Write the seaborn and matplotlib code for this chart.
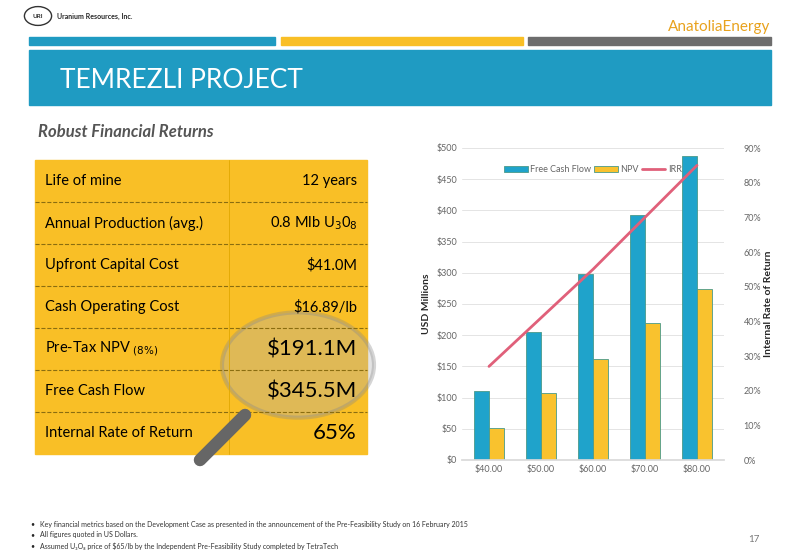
import matplotlib
matplotlib.use('Agg')
import matplotlib.pyplot as plt
import numpy as np
import pandas as pd
import seaborn as sns
from matplotlib.patches import Rectangle, Circle

sns.set_theme(style='white')
plt.rcParams['font.family'] = ['Lato', 'DejaVu Sans']

prices = ['$40.00', '$50.00', '$60.00', '$70.00', '$80.00']
free_cash_flow = [110, 205, 298, 392, 487]
npv = [52, 107, 162, 219, 274]
irr = [27, 41, 55, 70, 85]

table_labels = ['Life of mine', 'Annual Production (avg.)', 'Upfront Capital Cost',
                'Cash Operating Cost', 'Pre-Tax NPV $_{(8\\%)}$', 'Free Cash Flow',
                'Internal Rate of Return']
table_values = ['12 years', '0.8 Mlb U$_3$0$_8$', r'\$41.0M', r'\$16.89/lb',
                r'\$191.1M', r'\$345.5M', '65%']

footnotes = ['Key financial metrics based on the Development Case as presented in the announcement of the Pre-Feasibility Study on 16 February 2015',
             'All figures quoted in US Dollars.',
             'Assumed U\u2083O\u2088 price of \\$65/lb by the Independent Pre-Feasibility Study completed by TetraTech']

W, H = 800, 554
fig = plt.figure(figsize=(8, 5.54), dpi=100)
fig.patch.set_facecolor('white')

def box(x, y, w, h, color, **kw):
    fig.patches.append(Rectangle((x / W, 1 - (y + h) / H), w / W, h / H,
                                 transform=fig.transFigure, color=color, **kw))

def txt(x, y, s, **kw):
    fig.text(x / W, 1 - y / H, s, **kw)

blue = '#1f9bc2'
gold = '#f9bf26'
# header
box(29, 37, 246, 8, blue)
box(281, 37, 242, 8, gold)
box(528, 37, 243, 8, '#6d6d6d')
box(29, 50, 742, 55, blue)
txt(60, 80, 'TEMREZLI PROJECT', color='white', fontsize=19, va='center')
txt(57, 16, 'Uranium Resources, Inc.', fontsize=5, weight='bold', va='center')
fig.patches.append(Circle((38 / W, 1 - 16 / H), 0.017, transform=fig.transFigure,
                          fill=False, ec='#333333', lw=1))
txt(38, 16, 'URI', fontsize=4.5, ha='center', va='center', weight='bold')
txt(770, 27, 'AnatoliaEnergy', fontsize=11, color='#e8a21d', ha='right', va='center')
txt(38, 132, 'Robust Financial Returns', fontsize=12, weight='bold', style='italic',
    color='#555555', va='center')

# table
row_h = 42
for i, (lab, val) in enumerate(zip(table_labels, table_values)):
    y0 = 160 + i * row_h
    box(35, y0, 332, row_h, gold)
    if i < len(table_labels) - 1:
        fig.lines.append(plt.Line2D([35 / W, 367 / W], [1 - (y0 + row_h) / H] * 2,
                                    transform=fig.transFigure, color='#8a6d10',
                                    lw=0.8, ls='--'))
    big = i >= 4
    txt(45, y0 + row_h / 2, lab, fontsize=10.5, va='center', color='black')
    txt(357, y0 + row_h / 2, val, fontsize=16 if big else 10.5, va='center',
        ha='right', color='black')
fig.lines.append(plt.Line2D([229 / W] * 2, [1 - 160 / H, 1 - 454 / H],
                            transform=fig.transFigure, color='#e0a800', lw=0.6))
# magnifier
fig.patches.append(Circle((298 / W, 1 - 365 / H), 0.095, transform=fig.transFigure,
                          fc='#b0b0b0', alpha=0.35, ec='#888888', lw=3))
fig.lines.append(plt.Line2D([245 / W, 200 / W], [1 - 415 / H, 1 - 460 / H],
                            transform=fig.transFigure, color='#666666', lw=9,
                            solid_capstyle='round'))

# chart
ax = fig.add_axes([462 / W, 1 - 460 / H, 262 / W, 312 / H])
df = pd.DataFrame({'price': prices * 2,
                   'value': free_cash_flow + npv,
                   'series': ['Free Cash Flow'] * 5 + ['NPV'] * 5})
sns.barplot(data=df, x='price', y='value', hue='series', ax=ax,
            palette=['#1fa3cb', '#f9c22e'], width=0.58, edgecolor='#4a9a8a',
            linewidth=0.6, saturation=1)
ax.set_ylim(0, 500)
ax.set_yticks(range(0, 501, 50))
ax.set_yticklabels([f'${v}' for v in range(0, 501, 50)])
ax.set_xlabel('')
ax.set_ylabel('USD Millions', fontsize=7.5, weight='bold')
ax.yaxis.grid(True, color='#e4e4e4', lw=0.7)
ax.set_axisbelow(True)
for s in ['top', 'right', 'left']:
    ax.spines[s].set_visible(False)
ax.spines['bottom'].set_color('#d9d9d9')
ax.tick_params(labelsize=6.5, colors='#666666', length=0)

ax2 = ax.twinx()
ax2.plot(np.arange(len(prices)), irr, color='#e0607a', lw=2, label='IRR')
ax2.set_ylim(0, 90)
ax2.set_yticks(range(0, 91, 10))
ax2.set_yticklabels([f'{v}%' for v in range(0, 91, 10)])
ax2.set_ylabel('Internal Rate of Return', fontsize=7.5, weight='bold',
               rotation=90, labelpad=2)
for s in ax2.spines.values():
    s.set_visible(False)
ax2.tick_params(labelsize=6.5, colors='#666666', length=0, pad=14)

h1, l1 = ax.get_legend_handles_labels()
h2, l2 = ax2.get_legend_handles_labels()
ax.get_legend().remove()
ax2.legend(h1 + h2, l1 + l2, loc='upper center', bbox_to_anchor=(0.5, 0.97), ncol=3,
           frameon=False, fontsize=6.5, handlelength=2.6, columnspacing=0.3,
           handletextpad=0.3, labelcolor='#666666')

# footer
for i, f in enumerate(footnotes):
    txt(30, 524 + i * 11, '•', fontsize=5, va='center')
    txt(40, 524 + i * 11, f, fontsize=5, color='#333333', va='center')
txt(760, 539, '17', fontsize=7, color='#777777', ha='right', va='center')

fig.savefig('out.png', dpi=100)
